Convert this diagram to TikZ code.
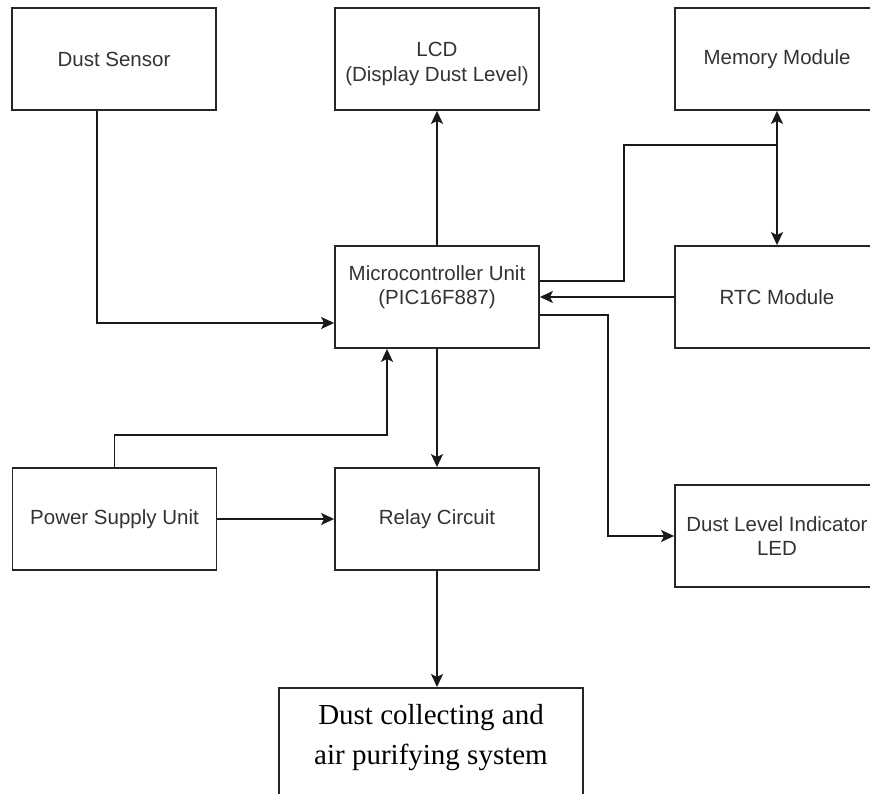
\documentclass[tikz,border=0pt]{standalone}
\usepackage{fontspec}
\setmainfont{Liberation Sans}
\newfontfamily\timesfont{Liberation Serif}
\usetikzlibrary{arrows.meta}
\begin{document}
\begin{tikzpicture}[x=1pt,y=-1pt,
  block/.style={draw=black!85,line width=1.8pt,minimum width=204pt,minimum height=102pt,
    align=center,text=black!80,font=\fontsize{20.5pt}{24.6pt}\selectfont},
  wire/.style={draw=black!90,line width=1.8pt},
  conn/.style={wire,-{Stealth[length=13pt,width=12pt,inset=3pt]}},
  conn2/.style={wire,{Stealth[length=13pt,width=12pt,inset=3pt]}-{Stealth[length=13pt,width=12pt,inset=3pt]}}]
\useasboundingbox (0,0) rectangle (870,794);
\clip (0,0) rectangle (870,794);
\node (sensor) [block] at (114,59) {Dust Sensor};
\node (lcd) [block] at (437,59) {\rule{0pt}{24pt}LCD\\(Display Dust Level)};
\node (memory) [block] at (777,59) {Memory Module};
\node (mcu) [block] at (437,297) {Microcontroller Unit\\(PIC16F887)\rule[-24pt]{0pt}{0pt}};
\node (rtc) [block] at (777,297) {RTC Module};
\node (power) [block] at (114.5,519) {Power Supply Unit};
\node (relay) [block] at (437,519) {Relay Circuit};
\node (led) [block] at (777,536) {Dust Level Indicator\\LED};
\node (system) [block,anchor=north,minimum width=304pt,minimum height=0pt,inner ysep=16pt,text=black,
  font=\timesfont\fontsize{29pt}{40pt}\selectfont] at (431,687)
  {Dust collecting and\\air purifying system\rule[-60pt]{0pt}{0pt}};
% connections
\draw [conn] ([xshift=-17pt]sensor.south) |- ([yshift=-26pt]mcu.west);
\draw [conn] (mcu.north) -- (lcd.south);
\draw [wire] ([yshift=16pt]mcu.east) -| ([xshift=-153pt,yshift=-34pt]memory.south) -- ([yshift=-34pt]memory.south);
\draw [conn2] (memory.south) -- (rtc.north);
\draw [conn] (rtc.west) -- (mcu.east);
\draw [conn] ([yshift=-18pt]mcu.east) -- ++(68,0) |- (led.west);
\draw [conn] (power.north) |- ([xshift=-50pt,yshift=-86pt]mcu.south) -- ([xshift=-50pt]mcu.south);
\draw [conn] (power.east) -- (relay.west);
\draw [conn] (mcu.south) -- (relay.north);
\draw [conn] (relay.south) -- (relay.south |- system.north);
\end{tikzpicture}
\end{document}
